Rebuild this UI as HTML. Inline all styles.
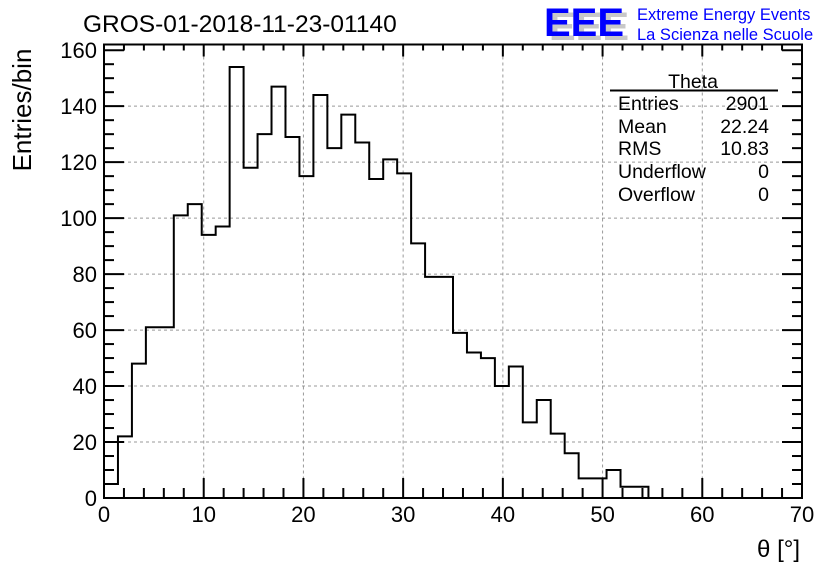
<!DOCTYPE html>
<html><head><meta charset="utf-8"><style>
body{margin:0;background:#fff;}
svg{display:block;font-family:"Liberation Sans",sans-serif;}
</style></head><body>
<svg id="chart" width="836" height="572" viewBox="0 0 836 572" xmlns="http://www.w3.org/2000/svg">
<rect width="836" height="572" fill="#fff"/>
<g id="grid"></g>
<g id="ticks"></g>
<path id="hist" fill="none" stroke="#000" stroke-width="2"/>
<rect x="104" y="44.5" width="698" height="453.5" fill="none" stroke="#000" stroke-width="2"/>
<g id="labels" font-size="22"></g>
<text x="83" y="32" font-size="24.5">GROS-01-2018-11-23-01140</text>
<text transform="translate(31,110) rotate(-90)" font-size="26" text-anchor="middle">Entries/bin</text>
<text x="800" y="557" font-size="24" text-anchor="end">θ [°]</text>
<g>
<text x="549" y="40" font-size="40" font-weight="bold" fill="#c8c8c8">EEE</text>
<text x="544" y="36" font-size="40" font-weight="bold" fill="#0000ff">EEE</text>
<text x="637" y="20" font-size="16.5" fill="#0000ff">Extreme Energy Events</text>
<text x="637" y="40" font-size="16.5" fill="#0000ff">La Scienza nelle Scuole</text>
</g>
<g font-size="19.5">
<text x="693" y="88" text-anchor="middle">Theta</text>
<line x1="610" y1="90.5" x2="778" y2="90.5" stroke="#000" stroke-width="2"/>
<text x="618" y="110">Entries</text><text x="769" y="110" text-anchor="end">2901</text>
<text x="618" y="133">Mean</text><text x="769" y="133" text-anchor="end">22.24</text>
<text x="618" y="155">RMS</text><text x="769" y="155" text-anchor="end">10.83</text>
<text x="618" y="178">Underflow</text><text x="769" y="178" text-anchor="end">0</text>
<text x="618" y="201">Overflow</text><text x="769" y="201" text-anchor="end">0</text>
</g>
</svg>
<script>
const counts = [5,22,48,61,61,101,105,94,97,154,118,130,147,129,115,144,125,137,127,114,121,116,91,79,79,59,52,50,40,47,27,35,23,16,7,7,10,4,4,0,0,0,0,0,0,0,0,0,0,0];
const binWidth = [1.4];
const xTicks = [0,10,20,30,40,50,60,70];
const yTicks = [0,20,40,60,80,100,120,140,160];
const X0=104,X1=802,Y0=498,YT=50.2;
const xs=v=>X0+(X1-X0)*v/70;
const ys=v=>Y0-(Y0-YT)*v/160;
const NS="http://www.w3.org/2000/svg";
function mk(t,a,p){const e=document.createElementNS(NS,t);for(const k in a)e.setAttribute(k,a[k]);p.appendChild(e);return e;}
const grid=document.getElementById('grid'),ticks=document.getElementById('ticks'),labels=document.getElementById('labels');
xTicks.forEach(v=>{
  if(v>0&&v<70){const l=mk('line',{x1:xs(v),x2:xs(v),y1:44.5,y2:Y0,stroke:'#999','stroke-dasharray':'3,3'},grid);
  
  }
  const t=mk('text',{x:xs(v),y:522,'text-anchor':'middle'},labels);t.textContent=v;
  
  
});
yTicks.forEach(v=>{
  if(v>0&&v<160){const l=mk('line',{x1:X0,x2:X1,y1:ys(v),y2:ys(v),stroke:'#999','stroke-dasharray':'3,3'},grid);
  
  }
  const t=mk('text',{x:97,y:ys(v)+8,'text-anchor':'end'},labels);t.textContent=v;
  
  
});
for(let v=0;v<=70;v+=2){const L=(v%10===0)?20:10;
  mk('line',{x1:xs(v),x2:xs(v),y1:Y0,y2:Y0-L,stroke:'#000','stroke-width':2},ticks);
  mk('line',{x1:xs(v),x2:xs(v),y1:44.5,y2:44.5+L*0.6,stroke:'#000','stroke-width':2},ticks);}
for(let v=0;v<=160;v+=5){const L=(v%20===0)?20:10;
  mk('line',{x1:X0,x2:X0+L,y1:ys(v),y2:ys(v),stroke:'#000','stroke-width':2},ticks);
  mk('line',{x1:X1,x2:X1-L,y1:ys(v),y2:ys(v),stroke:'#000','stroke-width':2},ticks);}
let d='M'+xs(0)+','+Y0;
counts.forEach((c,i)=>{const a=xs(i*binWidth[0]),b=xs((i+1)*binWidth[0]);d+=' L'+a+','+ys(c)+' L'+b+','+ys(c);});
d+=' L'+xs(70)+','+Y0;
document.getElementById('hist').setAttribute('d',d);
</script>
</body></html>
